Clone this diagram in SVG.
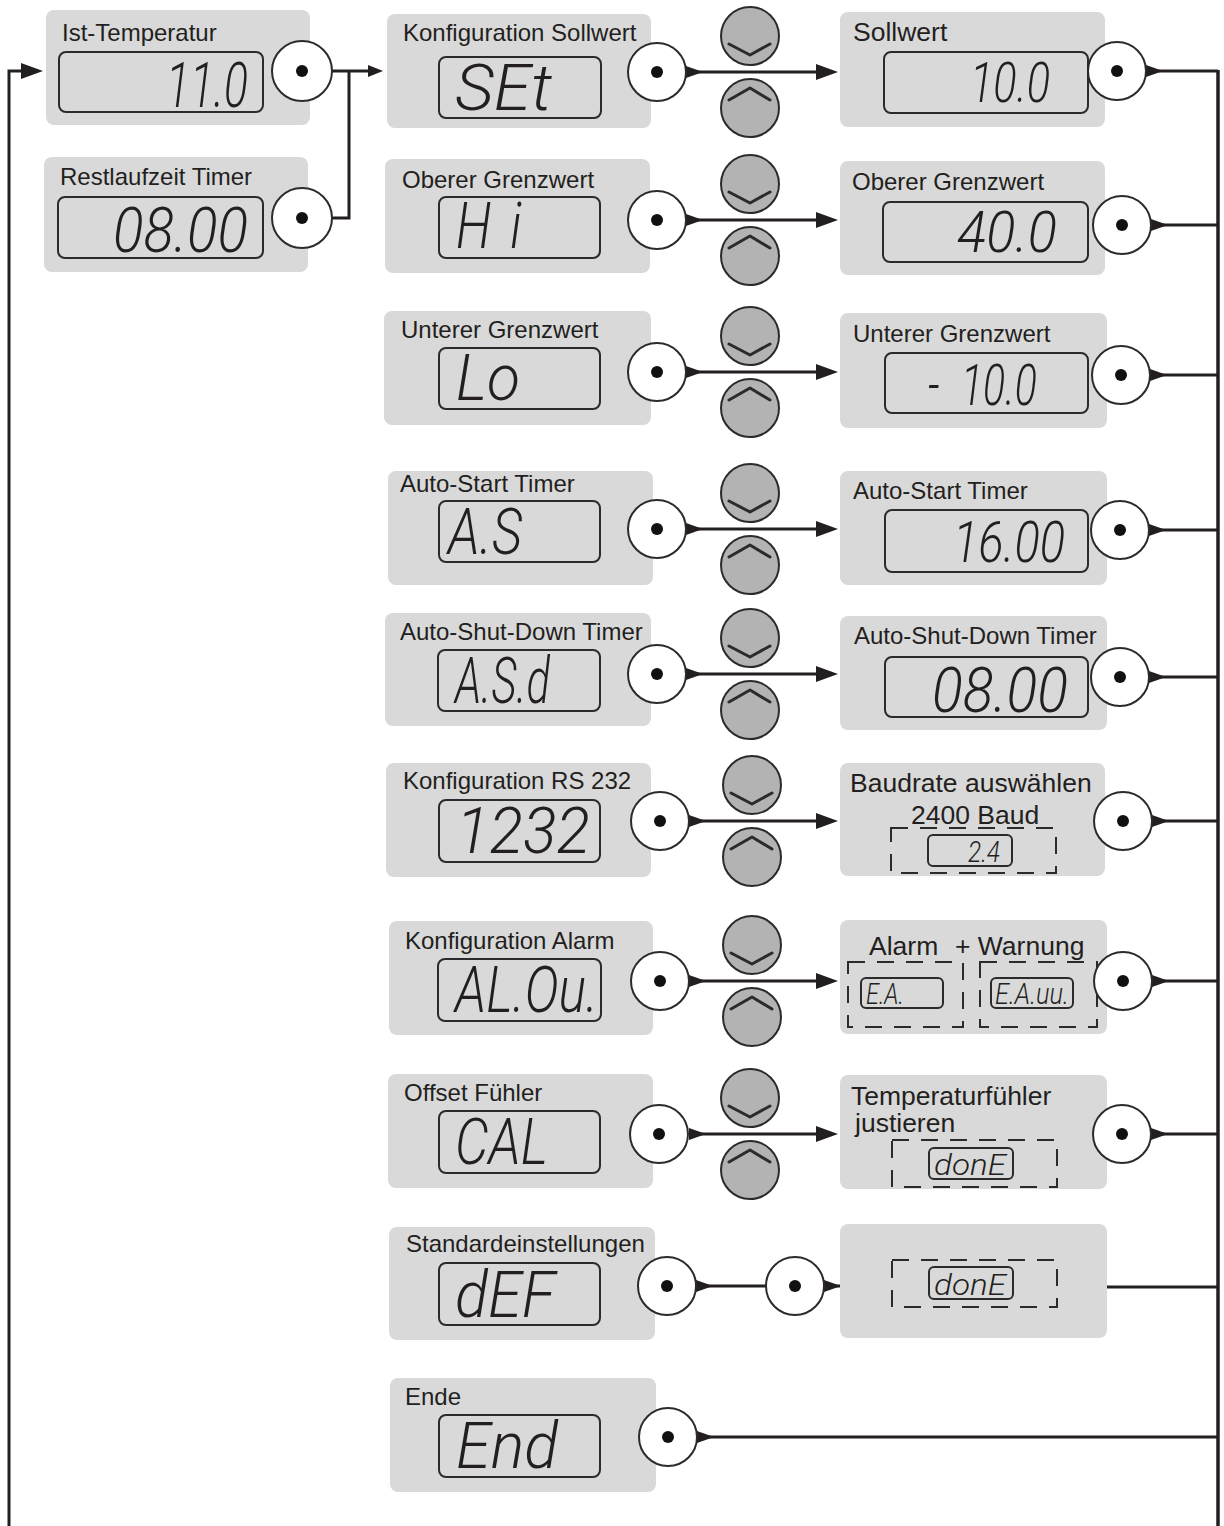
<svg xmlns="http://www.w3.org/2000/svg" width="1224" height="1526" viewBox="0 0 1224 1526">
<style>
.box{fill:#d9d9d9}
.lcd{fill:none;stroke:#2b2b2b;stroke-width:2}
.knob{fill:#fff;stroke:#2b2b2b;stroke-width:2}
.dot{fill:#111}
.btn{fill:#b3b3b3;stroke:#2b2b2b;stroke-width:2}
.chev{fill:none;stroke:#2b2b2b;stroke-width:3;stroke-linecap:round;stroke-linejoin:round}
.lbl{font-family:"Liberation Sans",Arial,sans-serif;font-size:24px;fill:#231f20}
.big{font-size:26.5px}
.seg{font-family:Roboto,"DejaVu Sans",sans-serif;font-style:italic;font-weight:300;fill:#231f20}
.dash{fill:none;stroke:#2b2b2b;stroke-width:2;stroke-dasharray:17 12}
.wire{fill:none;stroke:#231f20;stroke-width:3}
</style>
<defs>
<marker id="tail" markerUnits="userSpaceOnUse" markerWidth="18" markerHeight="14" viewBox="0 -7 18 14" refX="0" refY="0" orient="auto"><path d="M0,-6 L17,0 L0,6 z" fill="#231f20"/></marker>
<marker id="arr" markerUnits="userSpaceOnUse" markerWidth="24" markerHeight="18" viewBox="0 -9 24 18" refX="10" refY="0" orient="auto"><path d="M0,-8 L22,0 L0,8 z" fill="#231f20"/></marker>
<marker id="arrs" markerUnits="userSpaceOnUse" markerWidth="18" markerHeight="14" viewBox="0 -7 18 14" refX="8" refY="0" orient="auto"><path d="M0,-6 L15,0 L0,6 z" fill="#231f20"/></marker>
</defs>

<g id="connectors">
<path class="wire" d="M9,1526 V71 H31" marker-end="url(#arr)"/>
<path class="wire" d="M332,71 H376" marker-end="url(#arrs)"/>
<path class="wire" d="M332,218 H349 V71"/>
<path class="wire" d="M1218,70 V1526" style="stroke-width:3.5"/>
<path class="wire" d="M686,72 H826" marker-start="url(#tail)" marker-end="url(#arr)"/>
<path class="wire" d="M686,220 H826" marker-start="url(#tail)" marker-end="url(#arr)"/>
<path class="wire" d="M686,372 H826" marker-start="url(#tail)" marker-end="url(#arr)"/>
<path class="wire" d="M686,529 H826" marker-start="url(#tail)" marker-end="url(#arr)"/>
<path class="wire" d="M686,674 H826" marker-start="url(#tail)" marker-end="url(#arr)"/>
<path class="wire" d="M689,821 H826" marker-start="url(#tail)" marker-end="url(#arr)"/>
<path class="wire" d="M689,981 H826" marker-start="url(#tail)" marker-end="url(#arr)"/>
<path class="wire" d="M689,1134 H826" marker-start="url(#tail)" marker-end="url(#arr)"/>
<path class="wire" d="M696,1286 H766" marker-start="url(#tail)"/>
<path class="wire" d="M824,1286 H840" marker-start="url(#tail)"/>
<path class="wire" d="M697,1437 H1218" marker-start="url(#tail)"/>
<path class="wire" d="M1146,71 H1218" marker-start="url(#tail)"/>
<path class="wire" d="M1151,225 H1218" marker-start="url(#tail)"/>
<path class="wire" d="M1150,375 H1218" marker-start="url(#tail)"/>
<path class="wire" d="M1149,530 H1218" marker-start="url(#tail)"/>
<path class="wire" d="M1149,677 H1218" marker-start="url(#tail)"/>
<path class="wire" d="M1152,821 H1218" marker-start="url(#tail)"/>
<path class="wire" d="M1152,981 H1218" marker-start="url(#tail)"/>
<path class="wire" d="M1151,1134 H1218" marker-start="url(#tail)"/>
<path class="wire" d="M1107,1287 H1218"/>
</g>

<g id="buttons">
<circle class="btn" cx="750" cy="36" r="29"/><path class="chev" d="M729,44 L750,55 L770,44"/>
<circle class="btn" cx="750" cy="108" r="29"/><path class="chev" d="M729,100 L750,88 L770,100"/>
<circle class="btn" cx="750" cy="184" r="29"/><path class="chev" d="M729,192 L750,203 L770,192"/>
<circle class="btn" cx="750" cy="256" r="29"/><path class="chev" d="M729,248 L750,236 L770,248"/>
<circle class="btn" cx="750" cy="336" r="29"/><path class="chev" d="M729,344 L750,355 L770,344"/>
<circle class="btn" cx="750" cy="408" r="29"/><path class="chev" d="M729,400 L750,388 L770,400"/>
<circle class="btn" cx="750" cy="493" r="29"/><path class="chev" d="M729,501 L750,512 L770,501"/>
<circle class="btn" cx="750" cy="565" r="29"/><path class="chev" d="M729,557 L750,545 L770,557"/>
<circle class="btn" cx="750" cy="638" r="29"/><path class="chev" d="M729,646 L750,657 L770,646"/>
<circle class="btn" cx="750" cy="710" r="29"/><path class="chev" d="M729,702 L750,690 L770,702"/>
<circle class="btn" cx="752" cy="785" r="29"/><path class="chev" d="M731,793 L752,804 L772,793"/>
<circle class="btn" cx="752" cy="857" r="29"/><path class="chev" d="M731,849 L752,837 L772,849"/>
<circle class="btn" cx="752" cy="945" r="29"/><path class="chev" d="M731,953 L752,964 L772,953"/>
<circle class="btn" cx="752" cy="1017" r="29"/><path class="chev" d="M731,1009 L752,997 L772,1009"/>
<circle class="btn" cx="750" cy="1098" r="29"/><path class="chev" d="M729,1106 L750,1117 L770,1106"/>
<circle class="btn" cx="750" cy="1170" r="29"/><path class="chev" d="M729,1162 L750,1150 L770,1162"/>
</g>

<g id="ist-temperatur">
<rect class="box" x="46" y="10" width="264" height="115" rx="8"/>
<text class="lbl" x="62" y="41">Ist-Temperatur</text>
<rect class="lcd" x="59" y="52" width="204" height="60" rx="7"/>
<text class="seg" x="166" y="107" font-size="63" textLength="82" lengthAdjust="spacingAndGlyphs">11.0</text>
<circle class="knob" cx="302" cy="71" r="30"/><circle class="dot" cx="302" cy="71" r="6"/>
</g>

<g id="restlaufzeit">
<rect class="box" x="44" y="157" width="264" height="115" rx="8"/>
<text class="lbl" x="60" y="185">Restlaufzeit Timer</text>
<rect class="lcd" x="58" y="197" width="205" height="61" rx="7"/>
<text class="seg" x="113" y="252" font-size="62" textLength="135" lengthAdjust="spacingAndGlyphs">08.00</text>
<circle class="knob" cx="302" cy="218" r="30"/><circle class="dot" cx="302" cy="218" r="6"/>
</g>

<g id="konfig-sollwert">
<rect class="box" x="387" y="14" width="264" height="114" rx="8"/>
<text class="lbl" x="403" y="41">Konfiguration Sollwert</text>
<rect class="lcd" x="439" y="57" width="162" height="61" rx="7"/>
<text class="seg" x="455" y="110" font-size="64" textLength="97" lengthAdjust="spacingAndGlyphs">SEt</text>
<circle class="knob" cx="657" cy="72" r="29"/><circle class="dot" cx="657" cy="72" r="6"/>
</g>

<g id="oberer-konfig">
<rect class="box" x="385" y="159" width="265" height="114" rx="8"/>
<text class="lbl" x="402" y="188">Oberer Grenzwert</text>
<rect class="lcd" x="439" y="197" width="161" height="61" rx="7"/>
<text class="seg" transform="translate(456 248) scale(0.8 1)" font-size="64">H<tspan dx="24">i</tspan></text>
<circle class="knob" cx="657" cy="220" r="29"/><circle class="dot" cx="657" cy="220" r="6"/>
</g>

<g id="unterer-konfig">
<rect class="box" x="384" y="311" width="267" height="114" rx="8"/>
<text class="lbl" x="401" y="338">Unterer Grenzwert</text>
<rect class="lcd" x="439" y="348" width="161" height="61" rx="7"/>
<text class="seg" x="456" y="400" font-size="64" textLength="64" lengthAdjust="spacingAndGlyphs">Lo</text>
<circle class="knob" cx="657" cy="372" r="29"/><circle class="dot" cx="657" cy="372" r="6"/>
</g>

<g id="autostart-konfig">
<rect class="box" x="388" y="471" width="265" height="114" rx="8"/>
<text class="lbl" x="400" y="492">Auto-Start Timer</text>
<rect class="lcd" x="439" y="501" width="161" height="61" rx="7"/>
<text class="seg" x="448" y="554" font-size="64" textLength="74" lengthAdjust="spacingAndGlyphs">A.S</text>
<circle class="knob" cx="657" cy="529" r="29"/><circle class="dot" cx="657" cy="529" r="6"/>
</g>

<g id="autoshutdown-konfig">
<rect class="box" x="385" y="613" width="266" height="113" rx="8"/>
<text class="lbl" x="400" y="640">Auto-Shut-Down Timer</text>
<rect class="lcd" x="438" y="650" width="162" height="61" rx="7"/>
<text class="seg" x="455" y="703" font-size="64" textLength="95" lengthAdjust="spacingAndGlyphs">A.S.d</text>
<circle class="knob" cx="657" cy="674" r="29"/><circle class="dot" cx="657" cy="674" r="6"/>
</g>

<g id="rs232-konfig">
<rect class="box" x="386" y="763" width="265" height="114" rx="8"/>
<text class="lbl" x="403" y="789">Konfiguration RS 232</text>
<rect class="lcd" x="439" y="800" width="161" height="62" rx="7"/>
<text class="seg" x="456" y="853" font-size="64" textLength="134" lengthAdjust="spacingAndGlyphs">1232</text>
<circle class="knob" cx="660" cy="821" r="29"/><circle class="dot" cx="660" cy="821" r="6"/>
</g>

<g id="alarm-konfig">
<rect class="box" x="389" y="921" width="264" height="114" rx="8"/>
<text class="lbl" x="405" y="949">Konfiguration Alarm</text>
<rect class="lcd" x="438" y="959" width="163" height="62" rx="7"/>
<text class="seg" x="455" y="1012" font-size="64" textLength="143" lengthAdjust="spacingAndGlyphs">AL.Ou.</text>
<circle class="knob" cx="660" cy="981" r="29"/><circle class="dot" cx="660" cy="981" r="6"/>
</g>

<g id="offset-konfig">
<rect class="box" x="388" y="1074" width="265" height="114" rx="8"/>
<text class="lbl" x="404" y="1101">Offset Fühler</text>
<rect class="lcd" x="439" y="1111" width="161" height="62" rx="7"/>
<text class="seg" x="455" y="1164" font-size="64" textLength="93" lengthAdjust="spacingAndGlyphs">CAL</text>
<circle class="knob" cx="659" cy="1134" r="29"/><circle class="dot" cx="659" cy="1134" r="6"/>
</g>

<g id="standard-konfig">
<rect class="box" x="389" y="1227" width="266" height="113" rx="8"/>
<text class="lbl" x="406" y="1252">Standardeinstellungen</text>
<rect class="lcd" x="439" y="1263" width="161" height="62" rx="7"/>
<text class="seg" x="455" y="1317" font-size="64" textLength="100" lengthAdjust="spacingAndGlyphs">dEF</text>
<circle class="knob" cx="667" cy="1286" r="29"/><circle class="dot" cx="667" cy="1286" r="6"/>
<circle class="knob" cx="795" cy="1286" r="29"/><circle class="dot" cx="795" cy="1286" r="6"/>
</g>

<g id="ende">
<rect class="box" x="390" y="1378" width="266" height="114" rx="8"/>
<text class="lbl" x="405" y="1405">Ende</text>
<rect class="lcd" x="439" y="1415" width="161" height="62" rx="7"/>
<text class="seg" x="456" y="1468" font-size="64" textLength="102" lengthAdjust="spacingAndGlyphs">End</text>
<circle class="knob" cx="668" cy="1437" r="29"/><circle class="dot" cx="668" cy="1437" r="6"/>
</g>

<g id="sollwert">
<rect class="box" x="840" y="12" width="265" height="115" rx="8"/>
<text class="lbl big" x="853" y="41">Sollwert</text>
<rect class="lcd" x="884" y="52" width="204" height="61" rx="7"/>
<text class="seg" x="970" y="102" font-size="56" textLength="80" lengthAdjust="spacingAndGlyphs">10.0</text>
<circle class="knob" cx="1117" cy="71" r="29"/><circle class="dot" cx="1117" cy="71" r="6"/>
</g>

<g id="oberer-wert">
<rect class="box" x="840" y="161" width="265" height="114" rx="8"/>
<text class="lbl" x="852" y="190">Oberer Grenzwert</text>
<rect class="lcd" x="883" y="202" width="205" height="60" rx="7"/>
<text class="seg" x="957" y="252" font-size="57" textLength="100" lengthAdjust="spacingAndGlyphs">40.0</text>
<circle class="knob" cx="1122" cy="225" r="29"/><circle class="dot" cx="1122" cy="225" r="6"/>
</g>

<g id="unterer-wert">
<rect class="box" x="840" y="313" width="267" height="115" rx="8"/>
<text class="lbl" x="853" y="342">Unterer Grenzwert</text>
<rect class="lcd" x="885" y="353" width="203" height="60" rx="7"/>
<text class="seg" transform="translate(928 405) scale(0.72 1)" font-size="57">-<tspan dx="30">10.0</tspan></text>
<circle class="knob" cx="1121" cy="375" r="29"/><circle class="dot" cx="1121" cy="375" r="6"/>
</g>

<g id="autostart-wert">
<rect class="box" x="840" y="471" width="267" height="114" rx="8"/>
<text class="lbl" x="853" y="499">Auto-Start Timer</text>
<rect class="lcd" x="885" y="510" width="203" height="62" rx="7"/>
<text class="seg" x="953" y="562" font-size="57" textLength="112" lengthAdjust="spacingAndGlyphs">16.00</text>
<circle class="knob" cx="1120" cy="530" r="29"/><circle class="dot" cx="1120" cy="530" r="6"/>
</g>

<g id="autoshutdown-wert">
<rect class="box" x="840" y="616" width="267" height="114" rx="8"/>
<text class="lbl" x="854" y="644">Auto-Shut-Down Timer</text>
<rect class="lcd" x="885" y="657" width="203" height="60" rx="7"/>
<text class="seg" x="932" y="712" font-size="63" textLength="136" lengthAdjust="spacingAndGlyphs">08.00</text>
<circle class="knob" cx="1120" cy="677" r="29"/><circle class="dot" cx="1120" cy="677" r="6"/>
</g>

<g id="baudrate">
<rect class="box" x="840" y="763" width="265" height="113" rx="8"/>
<text class="lbl big" x="850" y="792">Baudrate auswählen</text>
<text class="lbl big" x="911" y="824">2400 Baud</text>
<rect class="dash" x="891" y="828" width="165" height="45"/>
<rect class="lcd" x="928" y="835" width="84" height="31" rx="5"/>
<text class="seg" x="968" y="862" font-size="30" textLength="32" lengthAdjust="spacingAndGlyphs">2.4</text>
<circle class="knob" cx="1123" cy="821" r="29"/><circle class="dot" cx="1123" cy="821" r="6"/>
</g>

<g id="alarm-wert">
<rect class="box" x="840" y="920" width="267" height="114" rx="8"/>
<text class="lbl big" x="869" y="955">Alarm</text>
<text class="lbl big" x="955" y="955">+ Warnung</text>
<rect class="dash" x="848" y="962" width="115" height="65"/>
<rect class="dash" x="980" y="962" width="117" height="65"/>
<rect class="lcd" x="861" y="978" width="82" height="30" rx="5"/>
<text class="seg" x="866" y="1004" font-size="30" textLength="38" lengthAdjust="spacingAndGlyphs">E.A.</text>
<rect class="lcd" x="991" y="978" width="82" height="30" rx="5"/>
<text class="seg" x="995" y="1004" font-size="30" textLength="74" lengthAdjust="spacingAndGlyphs">E.A.uu.</text>
<circle class="knob" cx="1123" cy="981" r="29"/><circle class="dot" cx="1123" cy="981" r="6"/>
</g>

<g id="temperaturfuehler">
<rect class="box" x="840" y="1075" width="267" height="114" rx="8"/>
<text class="lbl big" x="851" y="1105">Temperaturfühler</text>
<text class="lbl big" x="855" y="1132">justieren</text>
<rect class="dash" x="892" y="1140" width="165" height="47"/>
<rect class="lcd" x="929" y="1148" width="84" height="31" rx="5"/>
<text class="seg" x="934" y="1175" font-size="30" textLength="72" lengthAdjust="spacingAndGlyphs">donE</text>
<circle class="knob" cx="1122" cy="1134" r="29"/><circle class="dot" cx="1122" cy="1134" r="6"/>
</g>

<g id="standard-done">
<rect class="box" x="840" y="1224" width="267" height="114" rx="8"/>
<rect class="dash" x="892" y="1260" width="165" height="47"/>
<rect class="lcd" x="929" y="1267" width="84" height="32" rx="5"/>
<text class="seg" x="934" y="1295" font-size="30" textLength="72" lengthAdjust="spacingAndGlyphs">donE</text>
</g>
</svg>
